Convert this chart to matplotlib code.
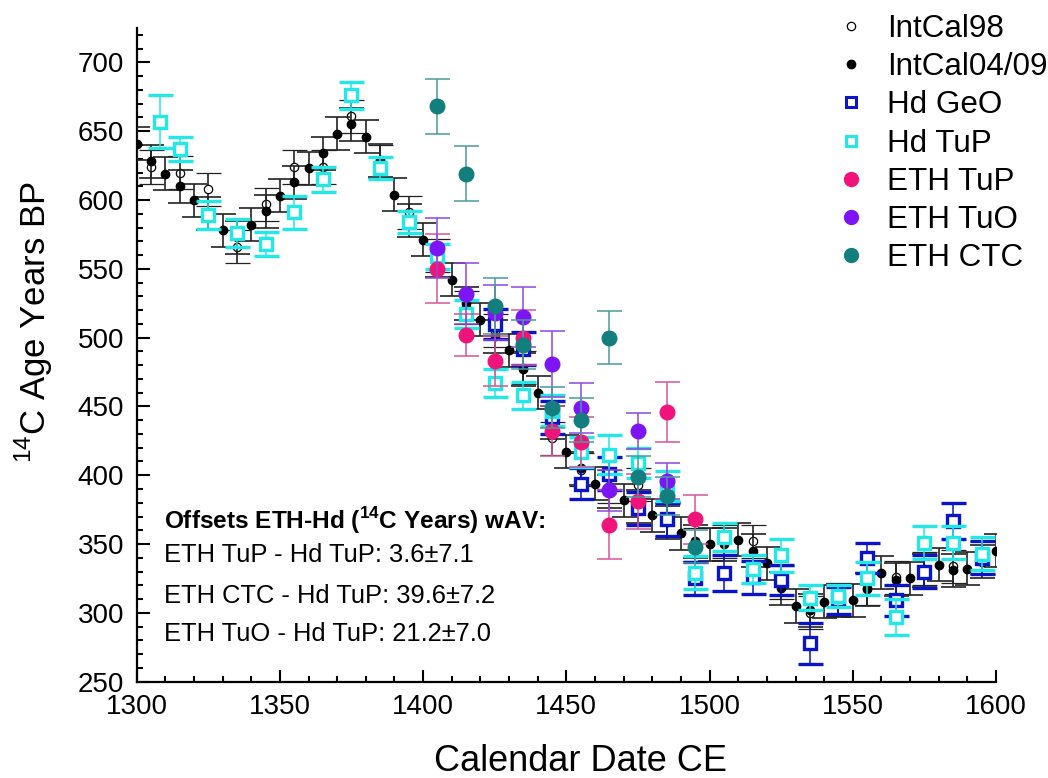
import matplotlib
matplotlib.use("Agg")
import matplotlib.pyplot as plt
from matplotlib.lines import Line2D

plt.rcParams['font.family'] = ['Liberation Sans', 'DejaVu Sans']
plt.rcParams['mathtext.fontset'] = 'custom'
plt.rcParams['mathtext.rm'] = 'Liberation Sans'
plt.rcParams['mathtext.bf'] = 'Liberation Sans:bold'

# ---------------- data ----------------
intcal04_x = [1300, 1305, 1310, 1315, 1320, 1325, 1330, 1335, 1340, 1345,
              1350, 1355, 1360, 1365, 1370, 1375, 1380, 1385, 1390, 1395,
              1400, 1405, 1410, 1415, 1420, 1425, 1430, 1435, 1440, 1445,
              1450, 1455, 1460, 1465, 1470, 1475, 1480, 1485, 1490, 1495,
              1500, 1505, 1510, 1515, 1520, 1525, 1530, 1535, 1540, 1545,
              1550, 1555, 1560, 1565, 1570, 1575, 1580, 1585, 1590, 1595, 1600]
intcal04_y = [641, 628, 619, 610, 600, 590, 578, 573, 582, 592,
              603, 613, 623, 634, 648, 655, 646, 629, 604, 585,
              571, 556, 542, 525, 513, 501, 491, 477, 460, 438,
              417, 405, 394, 388, 382, 377, 371, 366, 358, 352,
              350, 350, 353, 345, 336, 318, 305, 302, 308, 309,
              309, 317, 329, 324, 325, 331, 335, 331, 332, 337, 345]
intcal04_err = [12] * len(intcal04_x)

intcal98_x = [1305, 1315, 1325, 1335, 1345, 1355, 1365, 1375, 1385, 1395,
              1405, 1415, 1425, 1435, 1445, 1455, 1465, 1475, 1485, 1495,
              1505, 1515, 1525, 1535, 1545, 1555, 1565, 1575, 1585, 1595]
intcal98_y = [624, 620, 608, 566, 597, 624, 624, 661, 628, 591,
              560, 522, 505, 478, 427, 404, 392, 393, 368, 350,
              352, 352, 322, 300, 310, 318, 326, 332, 334, 340]
intcal98_err = [12] * len(intcal98_x)

hd_geo_x = [1425, 1435, 1445, 1455, 1465, 1475, 1485, 1495, 1505, 1515,
            1525, 1535, 1545, 1555, 1565, 1575, 1585, 1595]
hd_geo_y = [510, 492, 442, 394, 401, 376, 368, 325, 329, 326,
            324, 278, 309, 340, 309, 330, 367, 340]
hd_geo_err = [11, 12, 12, 11, 12, 12, 12, 12, 13, 12,
              11, 15, 10, 11, 11, 12, 13, 12]

hd_tup_x = [1308, 1315, 1325, 1335, 1345, 1355, 1365, 1375, 1385, 1395,
            1405, 1415, 1425, 1435, 1445, 1455, 1465, 1475, 1485, 1495,
            1505, 1515, 1525, 1535, 1545, 1555, 1565, 1575, 1585, 1595]
hd_tup_y = [657, 637, 589, 576, 568, 591, 615, 676, 623, 584,
            559, 517, 467, 458, 447, 417, 415, 409, 392, 329,
            355, 332, 342, 311, 312, 325, 297, 351, 351, 343]
hd_tup_err = [19, 9, 10, 10, 9, 12, 9, 10, 8, 8,
              9, 10, 10, 10, 11, 11, 14, 11, 11, 12,
              10, 10, 12, 9, 8, 12, 13, 12, 12, 12]

eth_tup_x = [1405, 1415, 1425, 1435, 1445, 1455, 1465, 1475, 1485, 1495]
eth_tup_y = [550, 502, 483, 500, 432, 424, 364, 381, 446, 368]
eth_tup_err = [25, 15, 18, 20, 18, 18, 25, 20, 22, 18]

eth_tuo_x = [1405, 1415, 1425, 1435, 1445, 1455, 1465, 1475, 1485]
eth_tuo_y = [565, 532, 518, 515, 481, 449, 389, 432, 396]
eth_tuo_err = [22, 22, 20, 22, 24, 18, 15, 13, 13]

eth_ctc_x = [1405, 1415, 1425, 1435, 1445, 1455, 1465, 1475, 1485, 1495]
eth_ctc_y = [668, 619, 523, 495, 449, 440, 500, 399, 385, 348]
eth_ctc_err = [20, 20, 20, 18, 15, 16, 19, 15, 14, 12]

labels = ['IntCal98', 'IntCal04/09', 'Hd GeO', 'Hd TuP', 'ETH TuP', 'ETH TuO', 'ETH CTC']
notes_title = r'Offsets ETH-Hd ($^{\mathbf{14}}$C Years) wAV:'
notes = ['ETH TuP - Hd TuP: 3.6\u00b17.1',
         'ETH CTC - Hd TuP: 39.6\u00b17.2',
         'ETH TuO - Hd TuP: 21.2\u00b17.0']

c_geo = '#0a14c8'
c_tup = '#22e8e8'
c_etp = '#f0147a'
c_eto = '#7d14f5'
c_ctc = '#137e7e'

# ---------------- figure ----------------
fig = plt.figure(figsize=(10.48, 7.78), dpi=100)
ax = fig.add_axes([0.1304, 0.1238, 0.82, 0.8402])

cap = 9
ax.errorbar(intcal98_x, intcal98_y, yerr=intcal98_err, fmt='o', ms=6,
            mfc='white', mec='black', mew=0.9, ecolor='#222222', elinewidth=1.2,
            capsize=cap, capthick=1.2, zorder=2)
ax.errorbar(intcal04_x, intcal04_y, yerr=intcal04_err, fmt='o', ms=6,
            mfc='black', mec='black', ecolor='#222222', elinewidth=1.2,
            capsize=cap, capthick=1.2, zorder=3)
ax.errorbar(hd_geo_x, hd_geo_y, yerr=hd_geo_err, fmt='s', ms=9,
            mfc='white', mec=c_geo, mew=2.4, ecolor=c_geo, elinewidth=1.1,
            capsize=cap, capthick=1.1, zorder=4)
ax.errorbar(hd_tup_x, hd_tup_y, yerr=hd_tup_err, fmt='s', ms=9,
            mfc='white', mec=c_tup, mew=2.4, ecolor=c_tup, elinewidth=1.1,
            capsize=cap, capthick=1.1, zorder=5)
ax.errorbar(eth_tup_x, eth_tup_y, yerr=eth_tup_err, fmt='o', ms=10.5,
            mfc=c_etp, mec=c_etp, ecolor='#d9559a', elinewidth=1.1,
            capsize=cap, capthick=1.1, zorder=6)
ax.errorbar(eth_tuo_x, eth_tuo_y, yerr=eth_tuo_err, fmt='o', ms=10.5,
            mfc=c_eto, mec=c_eto, ecolor='#8a48e0', elinewidth=1.1,
            capsize=cap, capthick=1.1, zorder=7)
ax.errorbar(eth_ctc_x, eth_ctc_y, yerr=eth_ctc_err, fmt='o', ms=10.5,
            mfc=c_ctc, mec=c_ctc, ecolor='#4a9a9a', elinewidth=1.1,
            capsize=cap, capthick=1.1, zorder=8)

ax.set_xlim(1300, 1600)
ax.set_ylim(250, 725)
ax.set_xticks([1300, 1350, 1400, 1450, 1500, 1550, 1600])
ax.set_yticks([250, 300, 350, 400, 450, 500, 550, 600, 650, 700])
ax.set_xticks(range(1300, 1601, 10), minor=True)
ax.set_yticks(range(250, 726, 10), minor=True)
for s in ['top', 'right']:
    ax.spines[s].set_visible(False)
for s in ['left', 'bottom']:
    ax.spines[s].set_linewidth(1.6)
ax.tick_params(which='major', direction='in', length=9, width=1.5,
               labelsize=20, pad=9)
ax.tick_params(which='minor', direction='in', length=4.5, width=1.5)

ax.set_xlabel('Calendar Date CE', fontsize=26)
ax.set_ylabel(r'$^{14}$C Age Years BP', fontsize=25)
ax.xaxis.set_label_coords(0.517, -0.095)
ax.yaxis.set_label_coords(-0.095, 0.55)

# notes
ax.text(0.032, 0.247, notes_title, transform=ax.transAxes, fontsize=17.6,
        fontweight='bold', va='center', ha='left')
note_y = [0.194, 0.131, 0.073]
for t, yy in zip(notes, note_y):
    ax.text(0.032, yy, t, transform=ax.transAxes, fontsize=18.4,
            va='center', ha='left')

# legend
handles = [
    Line2D([], [], ls='none', marker='o', ms=6, mfc='white', mec='black', mew=0.9),
    Line2D([], [], ls='none', marker='o', ms=6, mfc='black', mec='black'),
    Line2D([], [], ls='none', marker='s', ms=7, mfc='white', mec=c_geo, mew=2.2),
    Line2D([], [], ls='none', marker='s', ms=7, mfc='white', mec=c_tup, mew=2.2),
    Line2D([], [], ls='none', marker='o', ms=10, mfc=c_etp, mec=c_etp),
    Line2D([], [], ls='none', marker='o', ms=10, mfc=c_eto, mec=c_eto),
    Line2D([], [], ls='none', marker='o', ms=10, mfc=c_ctc, mec=c_ctc),
]
fig.legend(handles, labels, loc='upper left', bbox_to_anchor=(0.788, 0.998),
           frameon=False, fontsize=22.6, handlelength=0.8, handletextpad=0.75,
           labelspacing=0.26, borderaxespad=0.0)

fig.savefig('out.png', dpi=100)
